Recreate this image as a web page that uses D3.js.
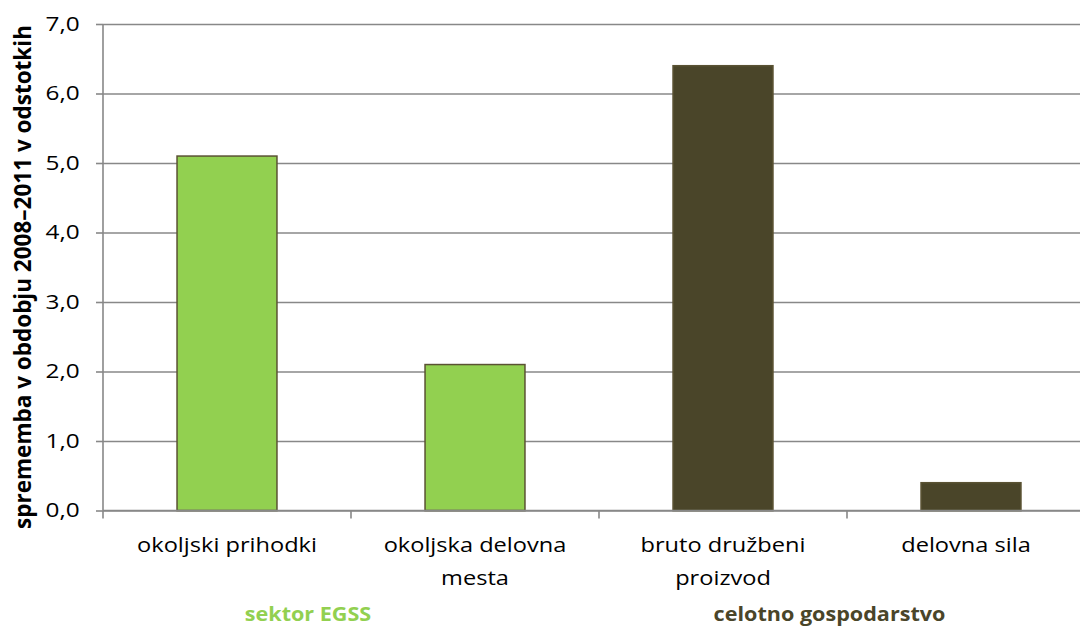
<!DOCTYPE html>
<html>
<head>
<meta charset="utf-8">
<script src="https://cdn.jsdelivr.net/npm/d3@7"></script>
<style>
  html, body { margin: 0; padding: 0; background: #fff; overflow: hidden; }
  svg { display: block; font-family: "Open Sans", sans-serif; }
</style>
</head>
<body>
<svg id="chart" width="1080" height="628"></svg>
<script>
// Categories and values (change 2008–2011, %)
const categories = ["okoljski prihodki", "okoljska delovna mesta", "bruto družbeni proizvod", "delovna sila"];
const categoryLines = [["okoljski prihodki"], ["okoljska delovna", "mesta"], ["bruto družbeni", "proizvod"], ["delovna sila"]];
const values = [5.1, 2.1, 6.4, 0.4];
const groupOf = [0, 0, 1, 1];
const groups = ["sektor EGSS", "celotno gospodarstvo"];
const groupColors = ["#92D050", "#4A4529"];
const yTicks = [0, 1, 2, 3, 4, 5, 6, 7];
const yTitle = "sprememba v obdobju 2008–2011 v odstotkih";

const FONT = 20;
const svg = d3.select("#chart");
const margin = { left: 103, top: 24 };
const plotRight = 103 + 4 * 248;

const x = d3.scaleBand().domain(categories).range([margin.left, plotRight]).paddingInner(0.597).paddingOuter(0.2985);
const xOuter = d3.scaleBand().domain(categories).range([margin.left, plotRight]).padding(0);
const y = d3.scaleLinear().domain([0, 7]).range([510.5, margin.top]);

const grid = "#888888";

// horizontal gridlines + y tick labels
const yAxis = svg.append("g").attr("transform", `translate(${margin.left},0)`)
  .call(d3.axisLeft(y).tickValues(yTicks).tickSize(-(plotRight - margin.left)).tickPadding(19)
    .tickFormat(d => d3.format(".1f")(d).replace(".", ",")));
yAxis.select(".domain").remove();
yAxis.selectAll(".tick line").attr("stroke", grid).attr("stroke-width", 1.6);
yAxis.selectAll(".tick text").attr("fill", "#000").attr("font-size", FONT)
  .attr("font-family", "'Open Sans', sans-serif").attr("transform", "scale(1.22,1)");
// small left tick marks
yAxis.selectAll(".tick").append("line").attr("x1", -7).attr("x2", 0).attr("stroke", grid).attr("stroke-width", 1.6);

// vertical axis line
svg.append("line").attr("x1", margin.left).attr("x2", margin.left).attr("y1", y(7)).attr("y2", y(0))
  .attr("stroke", grid).attr("stroke-width", 1.6);

// category boundary ticks below the baseline
const bounds = d3.range(categories.length + 1).map(i => margin.left + i * xOuter.step());
svg.append("g").selectAll("line").data(bounds).join("line")
  .attr("x1", d => d).attr("x2", d => d).attr("y1", y(0)).attr("y2", y(0) + 8)
  .attr("stroke", grid).attr("stroke-width", 1.6);

// bars
svg.append("g").selectAll("rect").data(values).join("rect")
  .attr("x", (d, i) => x(categories[i]))
  .attr("width", x.bandwidth())
  .attr("y", d => y(d))
  .attr("height", d => y(0) - y(d))
  .attr("fill", (d, i) => groupColors[groupOf[i]])
  .attr("stroke", "#5A5233")
  .attr("stroke-width", 1.5);

// baseline on top of bars
svg.append("line").attr("x1", margin.left).attr("x2", plotRight).attr("y1", y(0)).attr("y2", y(0))
  .attr("stroke", grid).attr("stroke-width", 1.6);

// category labels (wrapped onto two lines where needed)
const catG = svg.append("g");
categoryLines.forEach((lines, i) => {
  const cx = xOuter(categories[i]) + xOuter.bandwidth() / 2 - (i === 3 ? 5 : 0);
  lines.forEach((t, j) => {
    catG.append("g").attr("transform", `translate(${cx},${552 + j * 32.5}) scale(1.18,1)`)
      .append("text").attr("text-anchor", "middle").attr("font-size", FONT).attr("fill", "#000").text(t);
  });
});

// group labels under each pair of categories
const groupCenters = [
  xOuter(categories[1]) - 43,
  xOuter(categories[3]) - 17.5
];
svg.append("g").selectAll("g").data(groups).join("g")
  .attr("transform", (d, i) => `translate(${groupCenters[i]},621) scale(1.08,1)`)
  .append("text")
  .attr("text-anchor", "middle").attr("font-size", FONT).attr("font-weight", "bold")
  .attr("fill", (d, i) => groupColors[i]).text(d => d);

// y-axis title
svg.append("text")
  .attr("transform", `translate(31,277) rotate(-90)`)
  .attr("text-anchor", "middle").attr("font-size", 22.5).attr("font-weight", "bold").attr("fill", "#000")
  .text(yTitle);
</script>
</body>
</html>
